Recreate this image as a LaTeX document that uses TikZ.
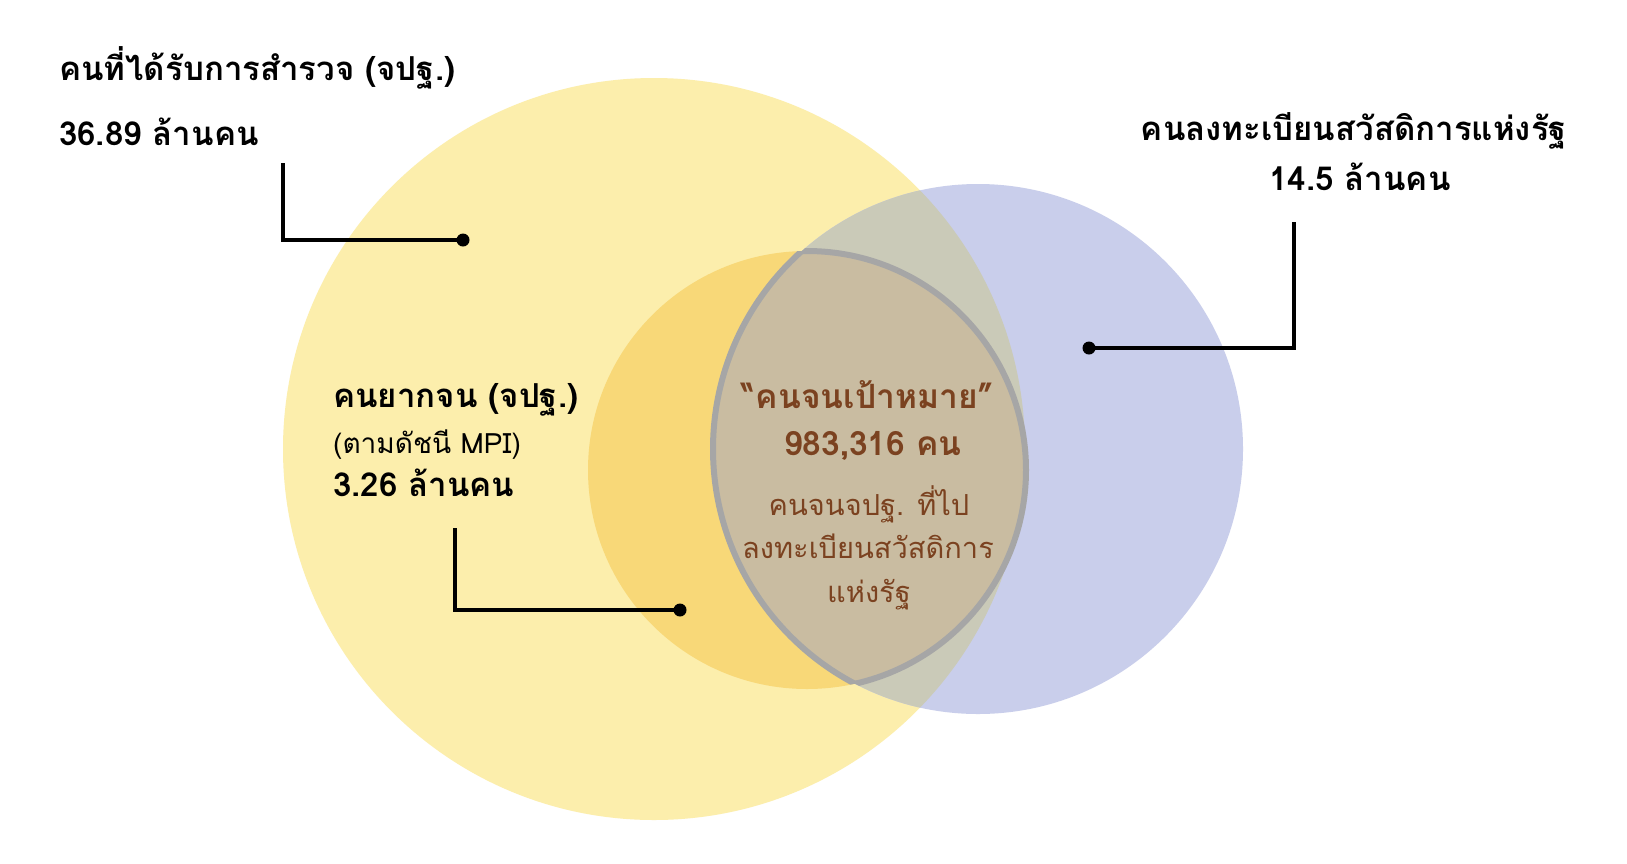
\documentclass[tikz,border=0pt]{standalone}
\usepackage{fontspec}
\newfontfamily\thai[Script=Thai]{Loma}
\definecolor{cYellow}{HTML}{FCEEAC}
\definecolor{cOrange}{HTML}{F8D878}
\definecolor{cBlue}{HTML}{C9CEEB}
\definecolor{cGray}{HTML}{CACAB8}
\definecolor{cLens}{HTML}{C9BCA1}
\definecolor{cLensLine}{HTML}{A6A6A6}
\definecolor{cBrown}{HTML}{7B4220}
\tikzset{
  dotnode/.style={circle,fill=black,inner sep=0pt,minimum size=13pt},
  conn/.style={line width=4pt,black},
  lensline/.style={line width=6pt,cLensLine},
  lbl/.style={inner sep=0pt,font=\thai\bfseries\fontsize{33}{36}\selectfont},
  midb/.style={inner sep=0pt,font=\thai\bfseries\fontsize{33}{36}\selectfont},
  midr/.style={inner sep=0pt,font=\thai\fontsize{28}{30}\selectfont},
  cenb/.style={inner sep=0pt,text=cBrown,font=\thai\bfseries\fontsize{33.5}{36}\selectfont},
  cenr/.style={inner sep=0pt,text=cBrown,font=\thai\fontsize{29}{32}\selectfont},
}
\begin{document}
\begin{tikzpicture}[x=1pt,y=-1pt]
\useasboundingbox (0,0) rectangle (1627,863);
\fill[white] (0,0) rectangle (1627,863);
% circles
\fill[cYellow] (654,449) circle[radius=371pt];
\fill[cBlue] (978,449) circle[radius=265pt];
\begin{scope}
  \clip (978,449) circle[radius=265pt];
  \fill[cGray] (654,449) circle[radius=371pt];
\end{scope}
\fill[cOrange] (807,470) circle[radius=219pt];
\begin{scope}
  \clip (978,449) circle[radius=265pt];
  \fill[cLens] (807,470) circle[radius=219pt];
  \draw[lensline] (807,470) circle[radius=219pt];
\end{scope}
\begin{scope}
  \clip (807,470) circle[radius=219pt];
  \draw[lensline] (978,449) circle[radius=265pt];
\end{scope}
% labels
\node[lbl,anchor=base west] (t1) at (59,80) {คนที่ได้รับการสำรวจ (จปฐ.)};
\node[lbl,anchor=base west] (t1b) at (59,145) {36.89 ล้านคน};
\node[lbl,anchor=base] (t2) at (1354,140) {คนลงทะเบียนสวัสดิการแห่งรัฐ};
\node[lbl,anchor=base] (t2b) at (1360,190) {14.5 ล้านคน};
\node[midb,anchor=base west] (t3) at (333,407) {คนยากจน (จปฐ.)};
\node[midr,anchor=base west] (t3b) at (333,453) {(ตามดัชนี MPI)};
\node[midb,anchor=base west] (t3c) at (333,496) {3.26 ล้านคน};
\node[cenb,anchor=base] (c1) at (868,408) {“คนจนเป้าหมาย”};
\node[cenb,anchor=base] (c2) at (873,455) {983,316 คน};
\node[cenr,anchor=base] (c3) at (869,515) {คนจนจปฐ. ที่ไป};
\node[cenr,anchor=base] (c4) at (868,558) {ลงทะเบียนสวัสดิการ};
\node[cenr,anchor=base] (c5) at (869,602) {แห่งรัฐ};
% connectors
\node[dotnode] (d1) at (463,240) {};
\coordinate (e1) at (283,163);
\draw[conn] (e1) |- (d1.center);
\node[dotnode] (d2) at (1089,348) {};
\coordinate (e2) at (1294,222);
\draw[conn] (e2) |- (d2.center);
\node[dotnode] (d3) at (680,610) {};
\coordinate (e3) at (455,528);
\draw[conn] (e3) |- (d3.center);
\end{tikzpicture}
\end{document}
